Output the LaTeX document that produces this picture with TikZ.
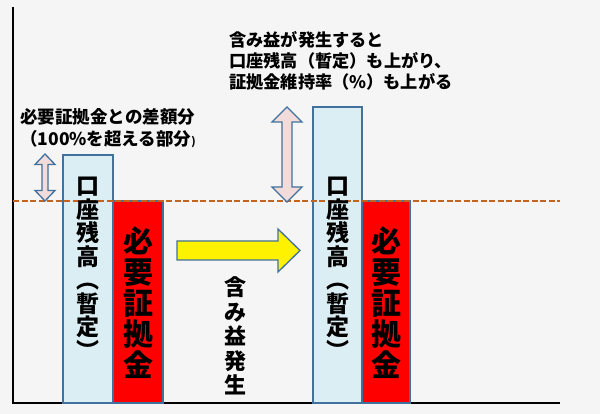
\documentclass[tikz,border=0pt]{standalone}
\usepackage{fontspec}
\setmainfont{Noto Sans CJK JP}[BoldFont={Noto Sans CJK JP Black}]
\definecolor{bgc}{RGB}{245,245,245}
\definecolor{edge}{RGB}{65,113,156}
\definecolor{lblue}{RGB}{218,238,243}
\definecolor{pinkf}{RGB}{242,220,219}
\definecolor{dashc}{RGB}{197,100,30}
\begin{document}
\begin{tikzpicture}[x=1pt,y=-1pt,
  bluebox/.style={draw=edge,fill=lblue,line width=1.3pt},
  redbox/.style={draw=edge,fill=red,line width=1.3pt},
  arrowshape/.style={draw=edge,line width=1.3pt,line join=miter},
  vtext/.style={align=center,inner sep=0pt},
  htext/.style={align=left,inner sep=0pt,anchor=west}]
\useasboundingbox (0,0) rectangle (600,414);
\fill[bgc] (0,0) rectangle (600,414);
% axes
\draw[line width=2pt] (13,7) -- (13,403) -- (560,403);
% boxes
\draw[bluebox] (63,155) rectangle (113,403);
\draw[redbox] (113,201) rectangle (163,403);
\draw[bluebox] (313,107) rectangle (362,403);
\draw[redbox] (362,201) rectangle (410,403);
% dashed level line
\draw[dashc,line width=1.5pt,dash pattern=on 6pt off 2.5pt] (13,201) -- (560,201);
% double arrows
\draw[arrowshape,fill=pinkf] (45,154) -- (55,164.5) -- (48,164.5) -- (48,190.5) -- (55,190.5) -- (45,201) -- (35,190.5) -- (42,190.5) -- (42,164.5) -- (35,164.5) -- cycle;
\draw[arrowshape,fill=pinkf] (287,107) -- (302,122) -- (292,122) -- (292,187) -- (302,187) -- (287,202) -- (272,187) -- (282,187) -- (282,122) -- (272,122) -- cycle;
% yellow arrow
\draw[arrowshape,fill=yellow] (177,241) -- (278,241) -- (278,229) -- (300,250.5) -- (278,272) -- (278,260) -- (177,260) -- cycle;
% texts in boxes
\node[vtext,font=\bfseries\fontsize{23}{23.5}\selectfont] (bal1) at (88,268) {口\\座\\残\\高\\︵\\暫\\定\\︶};
\node[vtext,font=\bfseries\fontsize{30}{31}\selectfont] (req1) at (138,303) {必\\要\\証\\拠\\金};
\node[vtext,font=\bfseries\fontsize{23}{23.5}\selectfont] (bal2) at (337.5,268) {口\\座\\残\\高\\︵\\暫\\定\\︶};
\node[vtext,font=\bfseries\fontsize{30}{31}\selectfont] (req2) at (386,303) {必\\要\\証\\拠\\金};
\node[vtext,font=\bfseries\fontsize{22}{24.4}\selectfont] (gain) at (235,336) {含\\み\\益\\発\\生};
% explanatory texts
\node[htext,font=\bfseries\fontsize{17.5}{22}\selectfont] (diff) at (20,128) {必要証拠金との差額分\\（100\%を超える部分{\fontsize{11}{11}\selectfont )}};
\node[htext,font=\bfseries\fontsize{17.2}{21}\selectfont] (note) at (229,61) {含み益が発生すると\\口座残高（暫定）も上がり、\\証拠金維持率（\%）も上がる};
\end{tikzpicture}
\end{document}
